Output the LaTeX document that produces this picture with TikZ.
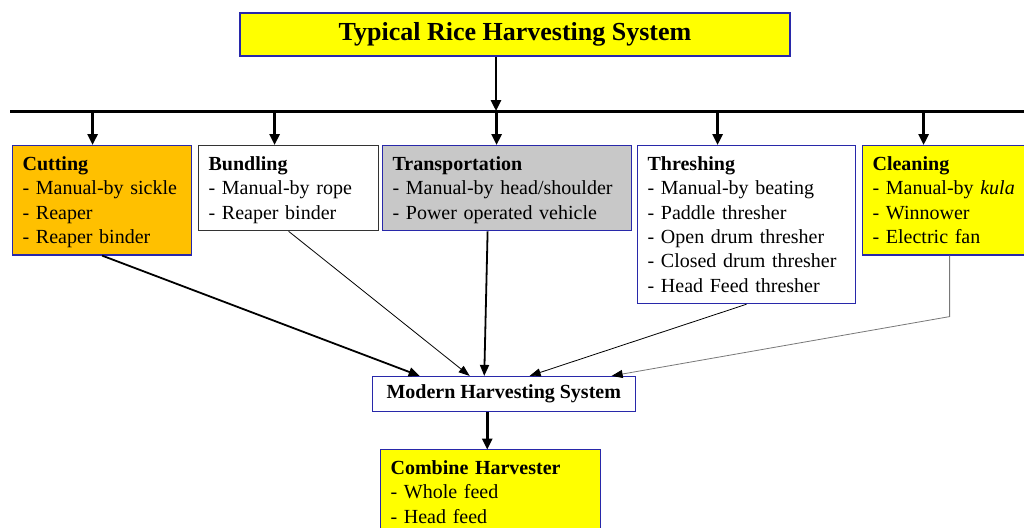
\documentclass[tikz,border=0pt]{standalone}
\usepackage{fontspec}
\setmainfont{Liberation Serif}
\usetikzlibrary{arrows.meta}

\definecolor{boxblue}{RGB}{40,40,170}
\definecolor{boxorange}{RGB}{255,192,0}
\definecolor{boxyellow}{RGB}{255,255,0}
\definecolor{boxgray}{RGB}{200,200,200}
\definecolor{linegray}{RGB}{120,120,120}

\tikzset{
  itembox/.style={draw=boxblue, line width=1.2pt, anchor=north west, align=left,
    inner xsep=10pt, inner ysep=0pt, font=\fontsize{20}{24.3}\selectfont,
    execute at begin node=\rule{0pt}{25pt},
    execute at end node=\rule[-11.5pt]{0pt}{0pt}},
  bigarrow/.style={line width=2.6pt, -{Triangle[length=11pt,width=10pt]}},
  midarrow/.style={line width=1.8pt, -{Triangle[length=11pt,width=9pt]}},
  thinarrow/.style={line width=0.8pt, -{Triangle[length=11pt,width=8pt]}}
}

\begin{document}
\begin{tikzpicture}[x=1pt,y=-1pt]

    % Page frame
    \useasboundingbox (0,0) rectangle (1024,527);

    % Title box
    \node[draw=boxblue, line width=1.2pt, fill=boxyellow, minimum width=550pt, minimum height=43pt,
      font=\fontsize{26}{30}\selectfont\bfseries] (title) at (515,34.5) {Typical Rice Harvesting System};

    % Horizontal bar
    \coordinate (barL) at (10,111);
    \coordinate (barR) at (1030,111);
    \coordinate (hub) at (496,111);
    \draw[line width=3pt] (barL) -- (barR);
    \draw[bigarrow] (title.south -| hub) -- (hub);

    % Operation boxes
    \node[itembox, fill=boxorange, text width=159pt] (cut) at (12,145)
      {\textbf{Cutting}\\- Manual-by sickle\\- Reaper\\- Reaper binder};
    \node[itembox, draw=black!80, fill=white, text width=160pt] (bund) at (198,145)
      {\textbf{Bundling}\\- Manual-by rope\\- Reaper binder};
    \node[itembox, fill=boxgray, text width=229pt] (trans) at (382,145)
      {\textbf{Transportation}\\- Manual-by head/shoulder\\- Power operated vehicle};
    \node[itembox, fill=white, text width=198pt] (thresh) at (637,145)
      {\textbf{Threshing}\\- Manual-by beating\\- Paddle thresher\\- Open drum thresher\\- Closed drum thresher\\- Head Feed thresher};
    \node[itembox, fill=boxyellow, text width=154pt] (clean) at (862,145)
      {\textbf{Cleaning}\\- Manual-by \textit{kula}\\- Winnower\\- Electric fan};

    % Arrows from the bar
    \foreach \n/\dx in {cut/-9.5, bund/-14, trans/-10.5, thresh/-29, clean/-26}
      \draw[bigarrow] ([xshift=\dx pt]\n.north) ++(0,-34) -- ([xshift=\dx pt]\n.north);

    % Modern system
    \node[draw=boxblue, line width=1.2pt, fill=white, minimum width=263pt, minimum height=35pt,
      font=\fontsize{20}{24}\selectfont\bfseries] (modern) at (503.75,394) {Modern Harvesting System};

    \draw[midarrow] (cut.south) -- ([xshift=48pt]modern.north west);
    \draw[thinarrow] (bund.south) -- ([xshift=98pt]modern.north west);
    \draw[midarrow] ([xshift=-19.5pt]trans.south) -- ([xshift=-19.5pt]modern.north);
    \draw[thinarrow] (thresh.south) -- ([xshift=158pt]modern.north west);
    \draw[thinarrow, draw=linegray, -{Triangle[length=11pt,width=8pt,color=black]}]
      (clean.south) -- ++(0,61) -- ([xshift=240pt]modern.north west);

    % Combine harvester
    \node[itembox, fill=boxyellow, text width=200pt] (comb) at (380,449)
      {\textbf{Combine Harvester}\\- Whole feed\\- Head feed};
    \draw[bigarrow] ([xshift=-16.5pt]modern.south) -- ++(0,37.5);

\end{tikzpicture}
\end{document}
